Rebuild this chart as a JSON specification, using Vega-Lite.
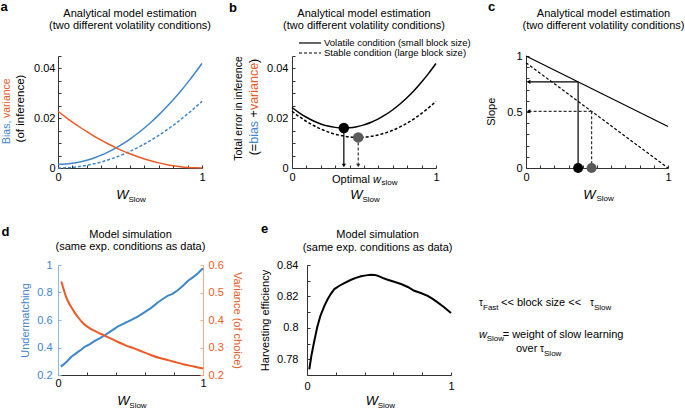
{
"$schema": "https://vega.github.io/schema/vega-lite/v6.json",
"padding": {"left": 0, "top": 0, "right": 0, "bottom": 0},
"config": {
 "view": {"stroke": null},
 "font": "Liberation Sans",
 "axis": {"grid": false, "labelFont": "Liberation Sans", "labelFontSize": 11, "labelColor": "#000", "domainColor": "#333", "tickColor": "#333", "tickSize": -3, "domainWidth": 1, "tickWidth": 1, "titleFont": "Liberation Sans", "titleFontWeight": "normal", "titleFontSize": 11, "titleColor": "#000", "labelFlush": false, "labelOverlap": false},
 "text": {"font": "Liberation Sans", "fontSize": 11, "baseline": "alphabetic", "color": "#000"},
 "point": {"filled": true, "opacity": 1}
},
"datasets": {
 "ab": [
  {"x":0,"bv":0.0015,"bs":0,"vr":0.0228,"tv":0.0243,"ts":0.0228},
  {"x":0.05,"bv":0.0016,"bs":0.000067,"vr":0.020577,"tv":0.02218,"ts":0.02064},
  {"x":0.1,"bv":0.00191,"bs":0.000268,"vr":0.018468,"tv":0.02038,"ts":0.01874},
  {"x":0.15,"bv":0.00241,"bs":0.000603,"vr":0.016473,"tv":0.01888,"ts":0.01708},
  {"x":0.2,"bv":0.00312,"bs":0.001072,"vr":0.014592,"tv":0.01771,"ts":0.01566},
  {"x":0.25,"bv":0.00403,"bs":0.001675,"vr":0.012825,"tv":0.01686,"ts":0.0145},
  {"x":0.3,"bv":0.00515,"bs":0.002412,"vr":0.011172,"tv":0.01632,"ts":0.01358},
  {"x":0.35,"bv":0.00646,"bs":0.003283,"vr":0.009633,"tv":0.01609,"ts":0.01292},
  {"x":0.4,"bv":0.00798,"bs":0.004288,"vr":0.008208,"tv":0.01619,"ts":0.0125},
  {"x":0.45,"bv":0.0097,"bs":0.005427,"vr":0.006897,"tv":0.0166,"ts":0.01232},
  {"x":0.5,"bv":0.01163,"bs":0.0067,"vr":0.0057,"tv":0.01733,"ts":0.0124},
  {"x":0.55,"bv":0.01375,"bs":0.008107,"vr":0.004617,"tv":0.01837,"ts":0.01272},
  {"x":0.6,"bv":0.01608,"bs":0.009648,"vr":0.003648,"tv":0.01973,"ts":0.0133},
  {"x":0.65,"bv":0.01861,"bs":0.011323,"vr":0.002793,"tv":0.0214,"ts":0.01412},
  {"x":0.7,"bv":0.02135,"bs":0.013132,"vr":0.002052,"tv":0.0234,"ts":0.01518},
  {"x":0.75,"bv":0.02428,"bs":0.015075,"vr":0.001425,"tv":0.02571,"ts":0.0165},
  {"x":0.8,"bv":0.02742,"bs":0.017152,"vr":0.000912,"tv":0.02833,"ts":0.01806},
  {"x":0.85,"bv":0.03076,"bs":0.019363,"vr":0.000513,"tv":0.03127,"ts":0.01988},
  {"x":0.9,"bv":0.03431,"bs":0.021708,"vr":0.000228,"tv":0.03454,"ts":0.02194},
  {"x":0.95,"bv":0.03805,"bs":0.024187,"vr":0.000057,"tv":0.03811,"ts":0.02424},
  {"x":1,"bv":0.042,"bs":0.0268,"vr":0,"tv":0.042,"ts":0.0268}
 ]
},
"spacing": 19,
"vconcat": [
 {
  "spacing": 90,
  "bounds": "flush",
  "hconcat": [
   {
    "width": 144, "height": 112,
    "data": {"values": [{}]},
    "resolve": {"axis": {"x": "independent", "y": "independent"}},
    "layer": [
     {
      "data": {"name": "ab"},
      "mark": {"type": "line", "strokeWidth": 1.5, "interpolate": "monotone", "color": "#3F86CE"},
      "encoding": {
       "x": {"field": "x", "type": "quantitative", "scale": {"domain": [0, 1], "nice": false}, "axis": {"values": [0,0.1,0.2,0.3,0.4,0.5,0.6,0.7,0.8,0.9,1], "format": "~g", "labelExpr": "datum.value == 0 || datum.value == 1 ? datum.label : ''", "title": null, "labelPadding": 6, "labelOverlap": false}},
       "y": {"field": "bv", "type": "quantitative", "scale": {"domain": [0, 0.045], "nice": false}, "axis": {"values": [0,0.005,0.01,0.015,0.02,0.025,0.03,0.035,0.04,0.045], "format": "~g", "labelExpr": "indexof(['0','0.02','0.04'], datum.label) >= 0 ? datum.label : ''", "title": null, "labelPadding": 6, "labelOverlap": false}}
      }
     },
     {
      "data": {"name": "ab"},
      "mark": {"type": "line", "strokeWidth": 1.5, "interpolate": "monotone", "color": "#3F86CE", "strokeDash": [3, 2]},
      "encoding": {"x": {"field": "x", "type": "quantitative", "axis": null}, "y": {"field": "bs", "type": "quantitative", "axis": null}}
     },
     {
      "data": {"name": "ab"},
      "mark": {"type": "line", "strokeWidth": 1.5, "interpolate": "monotone", "color": "#EE5A24"},
      "encoding": {"x": {"field": "x", "type": "quantitative", "axis": null}, "y": {"field": "vr", "type": "quantitative", "axis": null}}
     },
     {"mark": {"type": "text", "text": "a", "fontSize": 13, "fontWeight": "bold", "align": "left"}, "encoding": {"x": {"datum": -0.399, "axis": null}, "y": {"datum": 0.0631, "axis": null}}},
     {"mark": {"type": "text", "text": "Analytical model estimation", "align": "center"}, "encoding": {"x": {"datum": 0.5, "axis": null}, "y": {"datum": 0.06059, "axis": null}}},
     {"mark": {"type": "text", "text": "(two different volatility conditions)", "align": "center"}, "encoding": {"x": {"datum": 0.5, "axis": null}, "y": {"datum": 0.05597, "axis": null}}},
     {"mark": {"type": "text", "text": "Bias,", "angle": 270, "align": "left", "baseline": "middle", "fontSize": 10.5, "color": "#3F86CE"}, "encoding": {"x": {"datum": -0.352, "axis": null}, "y": {"datum": 0.00964, "axis": null}}},
     {"mark": {"type": "text", "text": "variance", "angle": 270, "align": "left", "baseline": "middle", "fontSize": 10.5, "color": "#EE5A24"}, "encoding": {"x": {"datum": -0.352, "axis": null}, "y": {"datum": 0.0201, "axis": null}}},
     {"mark": {"type": "text", "text": "(of inference)", "angle": 270, "align": "center", "baseline": "middle", "fontSize": 11.5}, "encoding": {"x": {"datum": -0.258, "axis": null}, "y": {"datum": 0.0239, "axis": null}}},
     {"mark": {"type": "text", "text": "W", "fontSize": 13, "fontStyle": "italic", "align": "center"}, "encoding": {"x": {"datum": 0.448, "axis": null}, "y": {"datum": -0.01233, "axis": null}}},
     {"mark": {"type": "text", "text": "Slow", "fontSize": 8, "align": "left"}, "encoding": {"x": {"datum": 0.4896, "axis": null}, "y": {"datum": -0.01346, "axis": null}}}
    ]
   },
   {
    "width": 144, "height": 112,
    "data": {"values": [{}]},
    "resolve": {"axis": {"x": "independent", "y": "independent"}},
    "layer": [
     {
      "data": {"name": "ab"},
      "mark": {"type": "line", "color": "#000", "strokeWidth": 1.5, "interpolate": "monotone"},
      "encoding": {
       "x": {"field": "x", "type": "quantitative", "scale": {"domain": [0, 1], "nice": false}, "axis": {"values": [0,0.1,0.2,0.3,0.4,0.5,0.6,0.7,0.8,0.9,1], "format": "~g", "labelExpr": "datum.value == 0 || datum.value == 1 ? datum.label : ''", "title": null, "labelPadding": 6, "labelOverlap": false}},
       "y": {"field": "tv", "type": "quantitative", "scale": {"domain": [0, 0.045], "nice": false}, "axis": {"values": [0,0.005,0.01,0.015,0.02,0.025,0.03,0.035,0.04,0.045], "format": "~g", "labelExpr": "indexof(['0','0.02','0.04'], datum.label) >= 0 ? datum.label : ''", "title": null, "labelPadding": 7, "labelOverlap": false}}
      }
     },
     {
      "data": {"name": "ab"},
      "mark": {"type": "line", "color": "#000", "strokeWidth": 1.5, "interpolate": "monotone", "strokeDash": [3, 2]},
      "encoding": {"x": {"field": "x", "type": "quantitative", "axis": null}, "y": {"field": "ts", "type": "quantitative", "axis": null}}
     },
     {
      "data": {"values": [{"x": 0.0486, "x2": 0.2014, "y": 0.05023}]},
      "mark": {"type": "rule", "color": "#000", "strokeWidth": 1.2},
      "encoding": {"x": {"field": "x", "type": "quantitative", "axis": null}, "x2": {"field": "x2"}, "y": {"field": "y", "type": "quantitative", "axis": null}}
     },
     {
      "data": {"values": [{"x": 0.0486, "x2": 0.2014, "y": 0.04621}]},
      "mark": {"type": "rule", "color": "#000", "strokeWidth": 1.2, "strokeDash": [3, 2]},
      "encoding": {"x": {"field": "x", "type": "quantitative", "axis": null}, "x2": {"field": "x2"}, "y": {"field": "y", "type": "quantitative", "axis": null}}
     },
     {"mark": {"type": "text", "text": "Volatile condition (small block size)", "align": "left", "fontSize": 9.5}, "encoding": {"x": {"datum": 0.2222, "axis": null}, "y": {"datum": 0.0489, "axis": null}}},
     {"mark": {"type": "text", "text": "Stable condition (large block size)", "align": "left", "fontSize": 9.5}, "encoding": {"x": {"datum": 0.2222, "axis": null}, "y": {"datum": 0.04488, "axis": null}}},
     {
      "data": {"values": [{"x": 0.36, "y": 0.0161, "y2": 0.001}]},
      "mark": {"type": "rule", "color": "#000", "strokeWidth": 1.2},
      "encoding": {"x": {"field": "x", "type": "quantitative", "axis": null}, "y": {"field": "y", "type": "quantitative", "axis": null}, "y2": {"field": "y2"}}
     },
     {
      "data": {"values": [{"x": 0.46, "y": 0.0123, "y2": 0.001}]},
      "mark": {"type": "rule", "color": "#333", "strokeWidth": 1.2, "strokeDash": [3, 2]},
      "encoding": {"x": {"field": "x", "type": "quantitative", "axis": null}, "y": {"field": "y", "type": "quantitative", "axis": null}, "y2": {"field": "y2"}}
     },
     {
      "data": {"values": [{"x": 0.36, "y": 0.001}]},
      "mark": {"type": "point", "shape": "triangle-down", "size": 18, "color": "#000"},
      "encoding": {"x": {"field": "x", "type": "quantitative", "axis": null}, "y": {"field": "y", "type": "quantitative", "axis": null}}
     },
     {
      "data": {"values": [{"x": 0.46, "y": 0.001}]},
      "mark": {"type": "point", "shape": "triangle-down", "size": 18, "color": "#333"},
      "encoding": {"x": {"field": "x", "type": "quantitative", "axis": null}, "y": {"field": "y", "type": "quantitative", "axis": null}}
     },
     {
      "data": {"values": [{"x": 0.36, "y": 0.0161}]},
      "mark": {"type": "point", "shape": "circle", "size": 110, "color": "#000"},
      "encoding": {"x": {"field": "x", "type": "quantitative", "axis": null}, "y": {"field": "y", "type": "quantitative", "axis": null}}
     },
     {
      "data": {"values": [{"x": 0.46, "y": 0.0123}]},
      "mark": {"type": "point", "shape": "circle", "size": 110, "color": "#5A5A5A"},
      "encoding": {"x": {"field": "x", "type": "quantitative", "axis": null}, "y": {"field": "y", "type": "quantitative", "axis": null}}
     },
     {"mark": {"type": "text", "text": "b", "fontSize": 13, "fontWeight": "bold", "align": "left"}, "encoding": {"x": {"datum": -0.4375, "axis": null}, "y": {"datum": 0.06248, "axis": null}}},
     {"mark": {"type": "text", "text": "Analytical model estimation", "align": "center"}, "encoding": {"x": {"datum": 0.5, "axis": null}, "y": {"datum": 0.06059, "axis": null}}},
     {"mark": {"type": "text", "text": "(two different volatility conditions)", "align": "center"}, "encoding": {"x": {"datum": 0.5, "axis": null}, "y": {"datum": 0.05597, "axis": null}}},
     {"mark": {"type": "text", "text": "Total error in inference", "angle": 270, "align": "center", "baseline": "middle", "fontSize": 10.5}, "encoding": {"x": {"datum": -0.3646, "axis": null}, "y": {"datum": 0.0239, "axis": null}}},
     {"mark": {"type": "text", "text": "(=", "angle": 270, "align": "left", "baseline": "middle", "fontSize": 12.5}, "encoding": {"x": {"datum": -0.264, "axis": null}, "y": {"datum": 0.0051, "axis": null}}},
     {"mark": {"type": "text", "text": "bias", "angle": 270, "align": "left", "baseline": "middle", "fontSize": 12.5, "color": "#3F86CE"}, "encoding": {"x": {"datum": -0.264, "axis": null}, "y": {"datum": 0.00972, "axis": null}}},
     {"mark": {"type": "text", "text": "+", "angle": 270, "align": "left", "baseline": "middle", "fontSize": 12.5}, "encoding": {"x": {"datum": -0.264, "axis": null}, "y": {"datum": 0.02033, "axis": null}}},
     {"mark": {"type": "text", "text": "variance", "angle": 270, "align": "left", "baseline": "middle", "fontSize": 12.5, "color": "#EE5A24"}, "encoding": {"x": {"datum": -0.264, "axis": null}, "y": {"datum": 0.02327, "axis": null}}},
     {"mark": {"type": "text", "text": ")", "angle": 270, "align": "left", "baseline": "middle", "fontSize": 12.5}, "encoding": {"x": {"datum": -0.264, "axis": null}, "y": {"datum": 0.04223, "axis": null}}},
     {"mark": {"type": "text", "text": "Optimal", "align": "left"}, "encoding": {"x": {"datum": 0.2778, "axis": null}, "y": {"datum": -0.0059, "axis": null}}},
     {"mark": {"type": "text", "text": "w", "align": "left", "fontStyle": "italic"}, "encoding": {"x": {"datum": 0.5625, "axis": null}, "y": {"datum": -0.0059, "axis": null}}},
     {"mark": {"type": "text", "text": "slow", "align": "left", "fontSize": 8}, "encoding": {"x": {"datum": 0.6215, "axis": null}, "y": {"datum": -0.00703, "axis": null}}},
     {"mark": {"type": "text", "text": "W", "fontSize": 13, "fontStyle": "italic", "align": "center"}, "encoding": {"x": {"datum": 0.448, "axis": null}, "y": {"datum": -0.01233, "axis": null}}},
     {"mark": {"type": "text", "text": "Slow", "fontSize": 8, "align": "left"}, "encoding": {"x": {"datum": 0.4896, "axis": null}, "y": {"datum": -0.01346, "axis": null}}}
    ]
   },
   {
    "width": 142, "height": 112,
    "data": {"values": [{}]},
    "resolve": {"axis": {"x": "independent", "y": "independent"}},
    "layer": [
     {
      "data": {"values": [{"x": 0, "y": 1}, {"x": 1, "y": 0.37}]},
      "mark": {"type": "line", "color": "#000", "strokeWidth": 1.2},
      "encoding": {
       "x": {"field": "x", "type": "quantitative", "scale": {"domain": [0, 1], "nice": false}, "axis": {"values": [0,0.1,0.2,0.3,0.4,0.5,0.6,0.7,0.8,0.9,1], "format": "~g", "labelExpr": "datum.value == 0 || datum.value == 1 ? datum.label : ''", "title": null, "labelPadding": 6, "labelOverlap": false}},
       "y": {"field": "y", "type": "quantitative", "scale": {"domain": [0, 1], "nice": false}, "axis": {"values": [0,0.1,0.2,0.3,0.4,0.5,0.6,0.7,0.8,0.9,1], "format": "~g", "labelExpr": "indexof(['0','0.5','1'], datum.label) >= 0 ? datum.label : ''", "title": null, "labelPadding": 7, "labelOverlap": false}}
      }
     },
     {
      "data": {"values": [{"x": 0, "y": 0.94}, {"x": 1, "y": 0}]},
      "mark": {"type": "line", "color": "#000", "strokeWidth": 1.2, "strokeDash": [3, 2]},
      "encoding": {"x": {"field": "x", "type": "quantitative", "axis": null}, "y": {"field": "y", "type": "quantitative", "axis": null}}
     },
     {
      "data": {"values": [{"x": 0.367, "y": 0.769, "x2": 0.367, "y2": 0}, {"x": 0.367, "y": 0.769, "x2": 0.012, "y2": 0.769}]},
      "mark": {"type": "rule", "color": "#000", "strokeWidth": 1.2},
      "encoding": {"x": {"field": "x", "type": "quantitative", "axis": null}, "y": {"field": "y", "type": "quantitative", "axis": null}, "x2": {"field": "x2"}, "y2": {"field": "y2"}}
     },
     {
      "data": {"values": [{"x": 0.462, "y": 0.506, "x2": 0.462, "y2": 0}, {"x": 0.462, "y": 0.506, "x2": 0.012, "y2": 0.506}]},
      "mark": {"type": "rule", "color": "#333", "strokeWidth": 1.2, "strokeDash": [3, 2]},
      "encoding": {"x": {"field": "x", "type": "quantitative", "axis": null}, "y": {"field": "y", "type": "quantitative", "axis": null}, "x2": {"field": "x2"}, "y2": {"field": "y2"}}
     },
     {
      "data": {"values": [{"x": 0.018, "y": 0.769}, {"x": 0.018, "y": 0.506}]},
      "mark": {"type": "point", "shape": "triangle-left", "size": 18, "color": "#000"},
      "encoding": {"x": {"field": "x", "type": "quantitative", "axis": null}, "y": {"field": "y", "type": "quantitative", "axis": null}}
     },
     {
      "data": {"values": [{"x": 0.367, "y": 0}]},
      "mark": {"type": "point", "shape": "circle", "size": 100, "color": "#000"},
      "encoding": {"x": {"field": "x", "type": "quantitative", "axis": null}, "y": {"field": "y", "type": "quantitative", "axis": null}}
     },
     {
      "data": {"values": [{"x": 0.462, "y": 0}]},
      "mark": {"type": "point", "shape": "circle", "size": 100, "color": "#5A5A5A"},
      "encoding": {"x": {"field": "x", "type": "quantitative", "axis": null}, "y": {"field": "y", "type": "quantitative", "axis": null}}
     },
     {"mark": {"type": "text", "text": "c", "fontSize": 13, "fontWeight": "bold", "align": "left"}, "encoding": {"x": {"datum": -0.2676, "axis": null}, "y": {"datum": 1.4018, "axis": null}}},
     {"mark": {"type": "text", "text": "Analytical model estimation", "align": "center"}, "encoding": {"x": {"datum": 0.5458, "axis": null}, "y": {"datum": 1.3464, "axis": null}}},
     {"mark": {"type": "text", "text": "(two different volatility conditions)", "align": "center"}, "encoding": {"x": {"datum": 0.5458, "axis": null}, "y": {"datum": 1.2438, "axis": null}}},
     {"mark": {"type": "text", "text": "Slope", "angle": 270, "align": "center", "baseline": "middle"}, "encoding": {"x": {"datum": -0.236, "axis": null}, "y": {"datum": 0.502, "axis": null}}},
     {"mark": {"type": "text", "text": "W", "fontSize": 13, "fontStyle": "italic", "align": "center"}, "encoding": {"x": {"datum": 0.447, "axis": null}, "y": {"datum": -0.274, "axis": null}}},
     {"mark": {"type": "text", "text": "Slow", "fontSize": 8, "align": "left"}, "encoding": {"x": {"datum": 0.4965, "axis": null}, "y": {"datum": -0.299, "axis": null}}}
    ]
   }
  ]
 },
 {
  "spacing": 104,
  "bounds": "flush",
  "hconcat": [
   {
    "width": 145, "height": 110,
    "data": {"values": [{}]},
    "resolve": {"scale": {"y": "independent"}, "axis": {"x": "independent", "y": "independent"}},
    "layer": [
     {
      "resolve": {"axis": {"x": "independent", "y": "independent"}},
      "layer": [
       {
        "data": {"values": [
         {"x":0.02,"u":0.261},{"x":0.041,"u":0.279},{"x":0.065,"u":0.302},{"x":0.092,"u":0.333},{"x":0.115,"u":0.35},{"x":0.14,"u":0.37},{"x":0.162,"u":0.385},{"x":0.184,"u":0.405},{"x":0.22,"u":0.425},{"x":0.253,"u":0.448},{"x":0.29,"u":0.468},{"x":0.322,"u":0.489},{"x":0.36,"u":0.515},{"x":0.414,"u":0.553},{"x":0.46,"u":0.578},{"x":0.506,"u":0.601},{"x":0.55,"u":0.625},{"x":0.598,"u":0.657},{"x":0.645,"u":0.69},{"x":0.69,"u":0.729},{"x":0.73,"u":0.758},{"x":0.759,"u":0.777},{"x":0.79,"u":0.79},{"x":0.828,"u":0.818},{"x":0.86,"u":0.848},{"x":0.897,"u":0.885},{"x":0.93,"u":0.91},{"x":0.965,"u":0.94},{"x":1.0,"u":0.976}
        ]},
        "mark": {"type": "line", "color": "#3F86CE", "strokeWidth": 2},
        "encoding": {
         "x": {"field": "x", "type": "quantitative", "scale": {"domain": [0, 1], "nice": false}, "axis": {"values": [0,0.2,0.4,0.6,0.8,1], "format": "~g", "labelExpr": "datum.value == 0 || datum.value == 1 ? datum.label : ''", "title": null, "labelPadding": 5, "labelOverlap": false}},
         "y": {"field": "u", "type": "quantitative", "scale": {"domain": [0.2, 1], "nice": false}, "axis": {"values": [0.2,0.4,0.6,0.8,1], "format": "~g", "title": "Undermatching", "titleColor": "#3F86CE", "labelColor": "#3F86CE", "domainColor": "#8DB8E6", "tickColor": "#8DB8E6", "labelPadding": 9, "titlePadding": 6, "labelOverlap": false}}
        }
       },
       {"mark": {"type": "text", "text": "d", "fontSize": 13, "fontWeight": "bold", "align": "left"}, "encoding": {"x": {"datum": -0.39, "axis": null}, "y": {"datum": 1.2145, "axis": null}}},
       {"mark": {"type": "text", "text": "Model simulation", "align": "center"}, "encoding": {"x": {"datum": 0.5, "axis": null}, "y": {"datum": 1.1971, "axis": null}}},
       {"mark": {"type": "text", "text": "(same exp. conditions as data)", "align": "center"}, "encoding": {"x": {"datum": 0.5, "axis": null}, "y": {"datum": 1.1055, "axis": null}}},
       {"mark": {"type": "text", "text": "W", "fontSize": 13, "fontStyle": "italic", "align": "center"}, "encoding": {"x": {"datum": 0.4517, "axis": null}, "y": {"datum": -0.0189, "axis": null}}},
       {"mark": {"type": "text", "text": "Slow", "fontSize": 8, "align": "left"}, "encoding": {"x": {"datum": 0.4917, "axis": null}, "y": {"datum": -0.04, "axis": null}}}
      ]
     },
     {
      "data": {"values": [
       {"x":0.023,"v":0.54},{"x":0.04,"v":0.51},{"x":0.057,"v":0.482},{"x":0.075,"v":0.462},{"x":0.092,"v":0.446},{"x":0.115,"v":0.427},{"x":0.138,"v":0.41},{"x":0.17,"v":0.39},{"x":0.207,"v":0.374},{"x":0.25,"v":0.361},{"x":0.299,"v":0.349},{"x":0.35,"v":0.336},{"x":0.414,"v":0.32},{"x":0.47,"v":0.307},{"x":0.529,"v":0.296},{"x":0.585,"v":0.284},{"x":0.644,"v":0.272},{"x":0.7,"v":0.262},{"x":0.759,"v":0.254},{"x":0.815,"v":0.246},{"x":0.87,"v":0.238},{"x":0.935,"v":0.231},{"x":1.0,"v":0.224}
      ]},
      "mark": {"type": "line", "color": "#EE5A24", "strokeWidth": 2, "interpolate": "monotone"},
      "encoding": {
       "x": {"field": "x", "type": "quantitative", "axis": null},
       "y": {"field": "v", "type": "quantitative", "scale": {"domain": [0.2, 0.6], "nice": false}, "axis": {"orient": "right", "values": [0.2,0.3,0.4,0.5,0.6], "format": "~g", "title": "Variance (of choice)", "titleColor": "#EE5A24", "labelColor": "#EE5A24", "domainColor": "#F5A98A", "tickColor": "#F5A98A", "labelPadding": 8, "titlePadding": 8, "labelOverlap": false}}
      }
     }
    ]
   },
   {
    "width": 144, "height": 110,
    "data": {"values": [{}]},
    "resolve": {"axis": {"x": "independent", "y": "independent"}},
    "layer": [
     {
      "data": {"values": [
       {"x":0.016,"h":0.7736},{"x":0.03,"h":0.782},{"x":0.046,"h":0.7896},{"x":0.07,"h":0.8},{"x":0.093,"h":0.8077},{"x":0.12,"h":0.8138},{"x":0.144,"h":0.8183},{"x":0.167,"h":0.8218},{"x":0.19,"h":0.8247},{"x":0.225,"h":0.8268},{"x":0.259,"h":0.8285},{"x":0.306,"h":0.8306},{"x":0.34,"h":0.8318},{"x":0.375,"h":0.8328},{"x":0.41,"h":0.8334},{"x":0.444,"h":0.8338},{"x":0.47,"h":0.8337},{"x":0.49,"h":0.8332},{"x":0.525,"h":0.8318},{"x":0.56,"h":0.8306},{"x":0.6,"h":0.8295},{"x":0.653,"h":0.8279},{"x":0.7,"h":0.826},{"x":0.745,"h":0.8236},{"x":0.79,"h":0.8222},{"x":0.838,"h":0.8204},{"x":0.87,"h":0.8186},{"x":0.907,"h":0.8162},{"x":0.95,"h":0.8133},{"x":1.0,"h":0.8094}
      ]},
      "mark": {"type": "line", "color": "#000", "strokeWidth": 2},
      "encoding": {
       "x": {"field": "x", "type": "quantitative", "scale": {"domain": [0, 1], "nice": false}, "axis": {"values": [0,0.2,0.4,0.6,0.8,1], "format": "~g", "labelExpr": "datum.value == 0 || datum.value == 1 ? datum.label : ''", "title": null, "labelPadding": 8, "labelOverlap": false}},
       "y": {"field": "h", "type": "quantitative", "scale": {"domain": [0.77, 0.84], "nice": false}, "axis": {"values": [0.77,0.78,0.79,0.8,0.81,0.82,0.83,0.84], "format": "~g", "labelExpr": "indexof(['0.78','0.8','0.82','0.84'], datum.label) >= 0 ? datum.label : ''", "title": "Harvesting efficiency", "labelPadding": 12, "titlePadding": 6, "labelOverlap": false}}
      }
     },
     {"mark": {"type": "text", "text": "e", "fontSize": 13, "fontWeight": "bold", "align": "left"}, "encoding": {"x": {"datum": -0.319, "axis": null}, "y": {"datum": 0.86016, "axis": null}}},
     {"mark": {"type": "text", "text": "Model simulation", "align": "center"}, "encoding": {"x": {"datum": 0.49, "axis": null}, "y": {"datum": 0.85724, "axis": null}}},
     {"mark": {"type": "text", "text": "(same exp. conditions as data)", "align": "center"}, "encoding": {"x": {"datum": 0.49, "axis": null}, "y": {"datum": 0.84922, "axis": null}}},
     {"mark": {"type": "text", "text": "W", "fontSize": 13, "fontStyle": "italic", "align": "center"}, "encoding": {"x": {"datum": 0.451, "axis": null}, "y": {"datum": 0.7506, "axis": null}}},
     {"mark": {"type": "text", "text": "Slow", "fontSize": 8, "align": "left"}, "encoding": {"x": {"datum": 0.491, "axis": null}, "y": {"datum": 0.7487, "axis": null}}},
     {"mark": {"type": "text", "text": "τ", "fontSize": 10, "align": "left"}, "encoding": {"x": {"datum": 1.1944, "axis": null}, "y": {"datum": 0.81392, "axis": null}}},
     {"mark": {"type": "text", "text": "Fast", "fontSize": 8, "align": "left"}, "encoding": {"x": {"datum": 1.2222, "axis": null}, "y": {"datum": 0.81138, "axis": null}}},
     {"mark": {"type": "text", "text": "<< block size <<", "align": "left"}, "encoding": {"x": {"datum": 1.3472, "axis": null}, "y": {"datum": 0.81392, "axis": null}}},
     {"mark": {"type": "text", "text": "τ", "fontSize": 10, "align": "left"}, "encoding": {"x": {"datum": 1.9653, "axis": null}, "y": {"datum": 0.81392, "axis": null}}},
     {"mark": {"type": "text", "text": "Slow", "fontSize": 8, "align": "left"}, "encoding": {"x": {"datum": 1.993, "axis": null}, "y": {"datum": 0.81138, "axis": null}}},
     {"mark": {"type": "text", "text": "w", "fontStyle": "italic", "align": "left"}, "encoding": {"x": {"datum": 1.1944, "axis": null}, "y": {"datum": 0.79376, "axis": null}}},
     {"mark": {"type": "text", "text": "Slow", "fontSize": 8, "align": "left"}, "encoding": {"x": {"datum": 1.2479, "axis": null}, "y": {"datum": 0.79185, "axis": null}}},
     {"mark": {"type": "text", "text": "= weight of slow learning", "align": "left"}, "encoding": {"x": {"datum": 1.359, "axis": null}, "y": {"datum": 0.79376, "axis": null}}},
     {"mark": {"type": "text", "text": "over", "align": "left"}, "encoding": {"x": {"datum": 1.4514, "axis": null}, "y": {"datum": 0.78486, "axis": null}}},
     {"mark": {"type": "text", "text": "τ", "fontSize": 10, "align": "left"}, "encoding": {"x": {"datum": 1.618, "axis": null}, "y": {"datum": 0.78486, "axis": null}}},
     {"mark": {"type": "text", "text": "Slow", "fontSize": 8, "align": "left"}, "encoding": {"x": {"datum": 1.646, "axis": null}, "y": {"datum": 0.78213, "axis": null}}}
    ]
   }
  ]
 }
]
}
